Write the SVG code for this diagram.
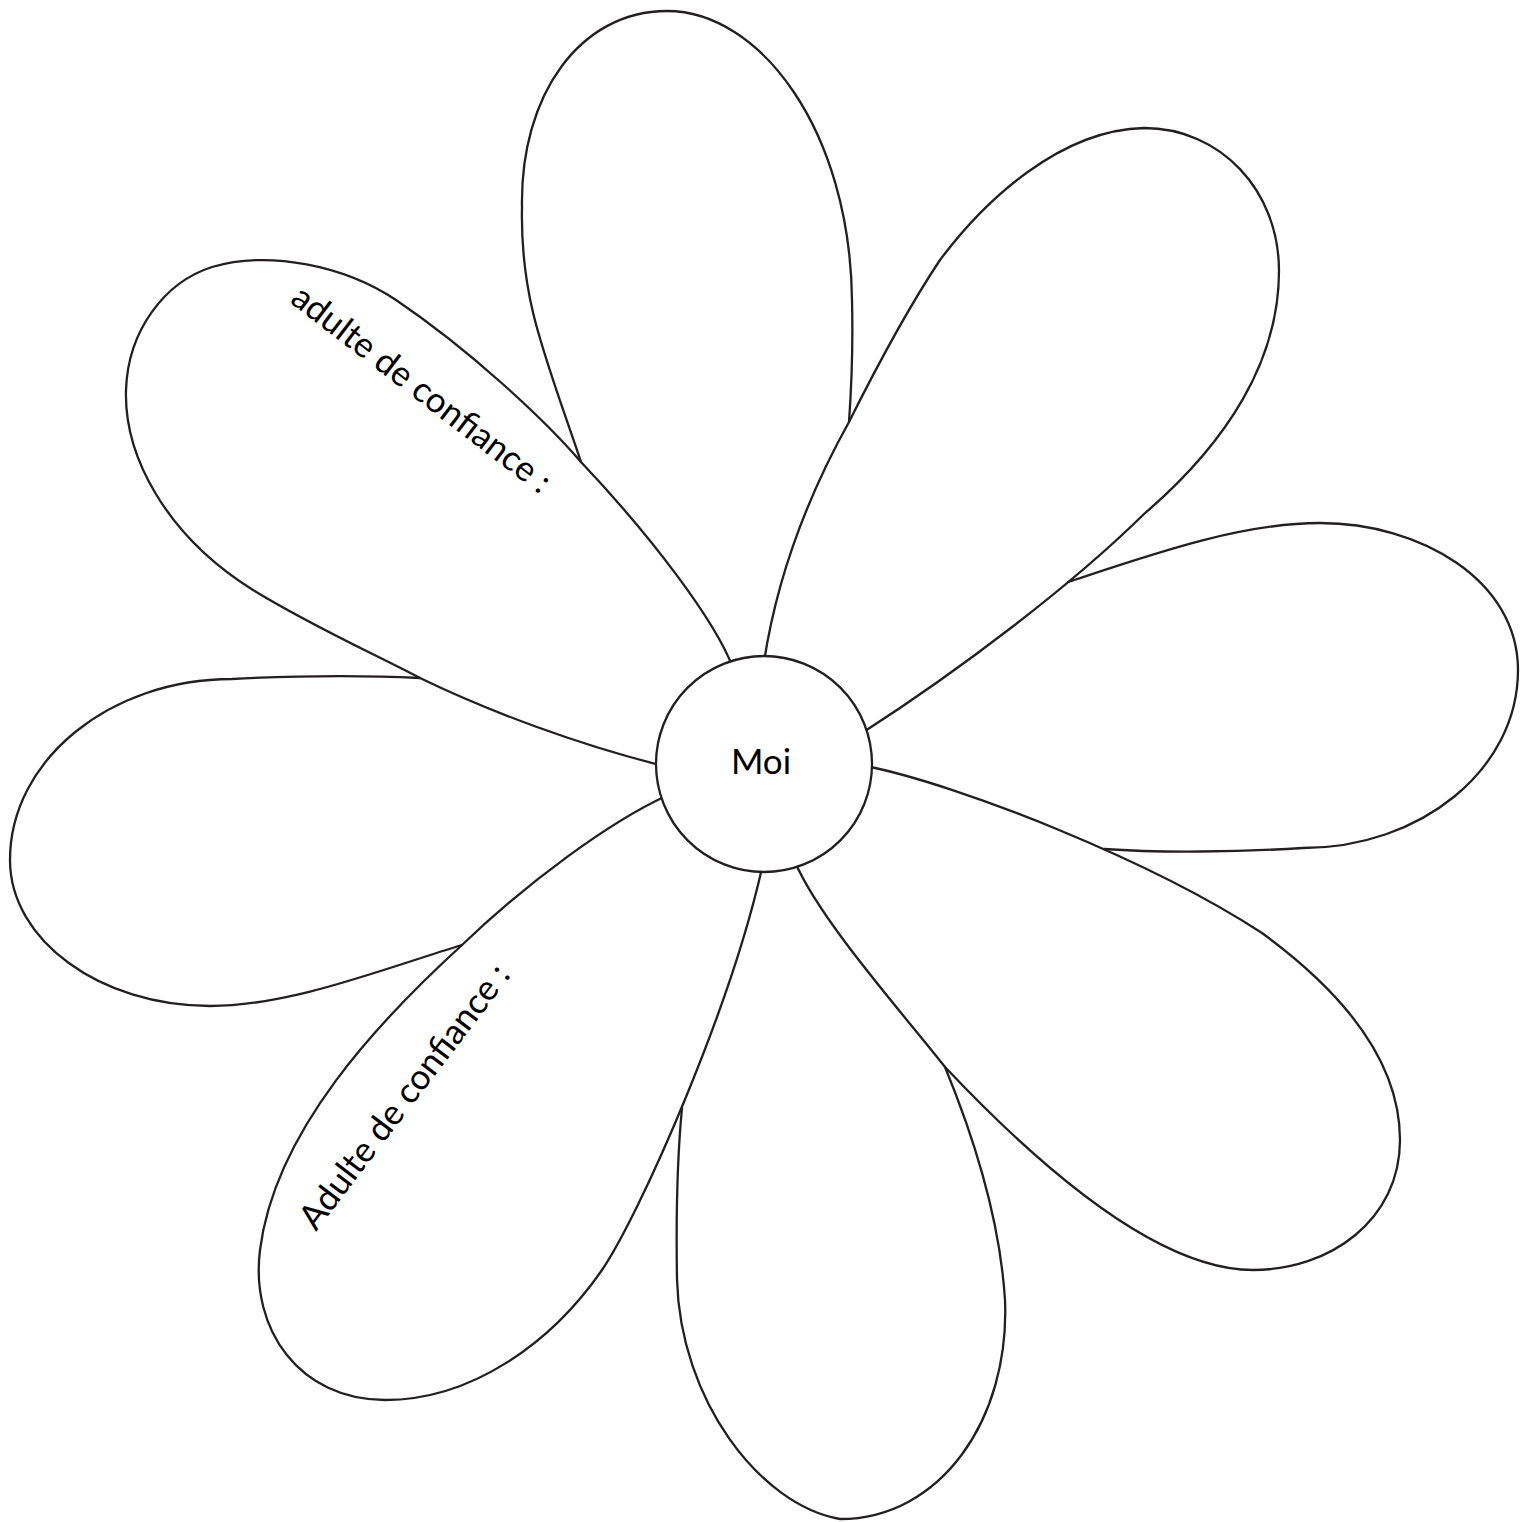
<svg xmlns="http://www.w3.org/2000/svg" width="1530" height="1522" viewBox="0 0 1530 1522">
<style>
.petal{fill:none;stroke:#231f20;stroke-width:2.3;stroke-linecap:round;stroke-linejoin:round}
.center{fill:#ffffff;stroke:#231f20;stroke-width:2.3}
.lbl{font-family:Lato,"Open Sans","Liberation Sans",sans-serif;font-size:35px;fill:#000000}
</style>
<rect x="0" y="0" width="1530" height="1522" fill="#ffffff"/>
<g id="petal-top"><path class="petal" d="M581,462 C545,355 520,300 522,207 C520,95 580,11 667,11 C760,11 850,130 852,300 C853,340 852,380 849,422"/></g>
<g id="petal-right"><path class="petal" d="M1068,582 C1150,555 1240,523 1320,523 C1420,523 1518,580 1518,670 C1518,770 1420,848 1303,848 C1240,852 1160,853 1104,849"/></g>
<g id="petal-bottom"><path class="petal" d="M945,1067 C975,1140 1000,1220 1005,1300 C1010,1420 940,1519 840,1519 C760,1505 680,1400 677,1279 C676,1220 677,1160 682,1108"/></g>
<g id="petal-left"><path class="petal" d="M462,945 C380,970 290,1006 210,1006 C100,1006 10,940 10,860 C10,760 110,679 232,679 C290,676 360,675 420,678"/></g>
<g id="petal-upper-left"><path class="petal" d="M733,668 C715,620 650,535 581,462 C545,420 470,350 396,300 C345,266 270,250 212,267 C165,282 128,330 126,390 C124,455 165,535 253,590 C310,625 370,652 420,678 C490,712 580,745 660,765"/></g>
<g id="petal-upper-right"><path class="petal" d="M764,662 C775,590 800,510 849,422 C880,360 910,305 940,260 C985,200 1060,130 1144,128 C1220,128 1279,190 1279,271 C1279,360 1228,442 1144,514 C1072,585 960,670 862,733"/></g>
<g id="petal-lower-right"><path class="petal" d="M866,766 C960,785 1150,860 1262,933 C1340,990 1400,1060 1400,1140 C1400,1220 1330,1270 1253,1270 C1180,1270 1080,1210 945,1067 C900,1010 820,920 795,862"/></g>
<g id="petal-lower-left"><path class="petal" d="M666,796 C610,822 530,880 462,945 C380,1020 275,1130 260,1250 C250,1330 300,1400 385,1400 C470,1400 550,1345 602,1270 C640,1214 730,1010 762,868"/></g>
<g id="center"><circle class="center" cx="764" cy="764" r="108"/><text class="lbl" x="761" y="774" text-anchor="middle">Moi</text></g>
<g id="label-upper"><text class="lbl" transform="translate(289,302) rotate(37.5)" x="0" y="0">adulte de confiance :</text></g>
<g id="label-lower"><text class="lbl" transform="translate(316,1232) rotate(-52.7)" x="0" y="0">Adulte de confiance :</text></g>
<g id="connectors"></g>
</svg>
